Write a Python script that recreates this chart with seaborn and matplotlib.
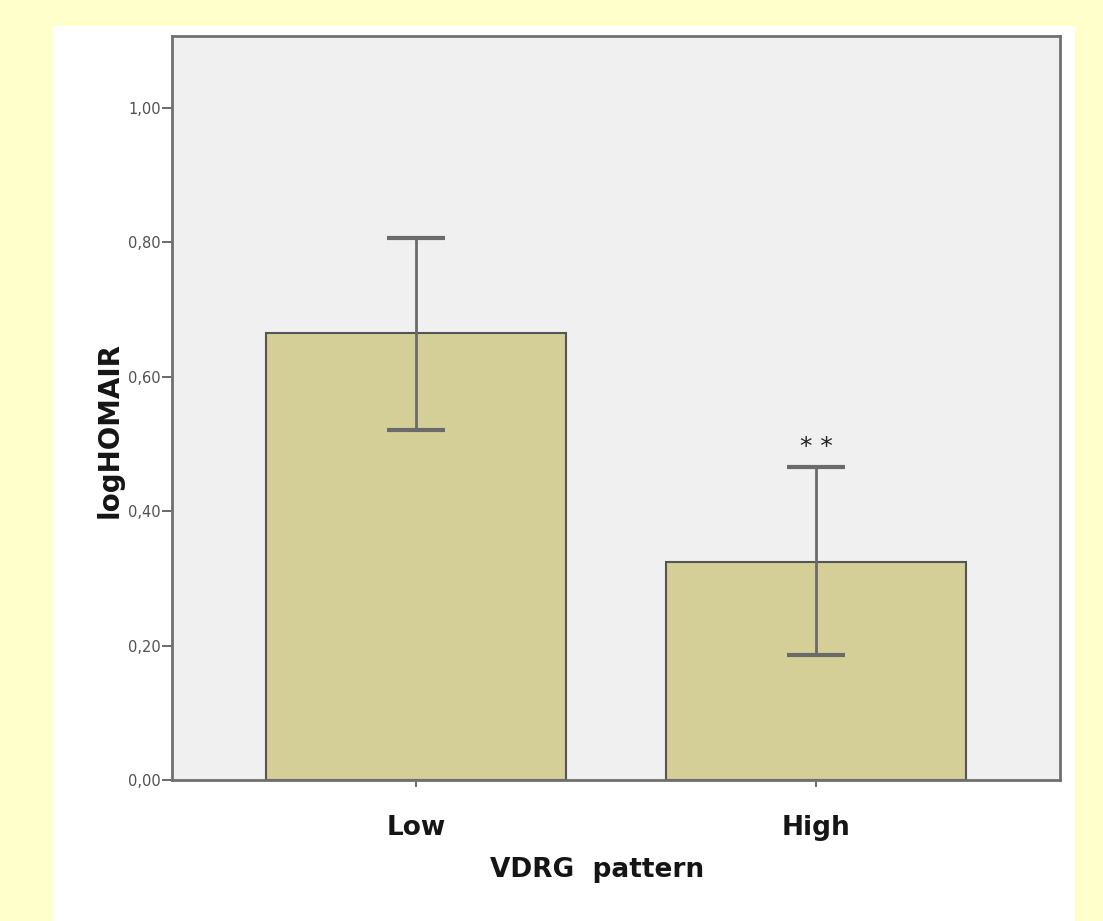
import matplotlib

matplotlib.use("Agg")

import matplotlib.pyplot as plt
from matplotlib.patches import Rectangle
from matplotlib.ticker import FixedLocator
import seaborn as sns

groups = ["Low", "High"]
means = [0.665, 0.325]
ci_low = [0.521, 0.186]
ci_high = [0.807, 0.465]
y_ticks = [0.0, 0.2, 0.4, 0.6, 0.8, 1.0]
y_tick_labels = ["0,00", "0,20", "0,40", "0,60", "0,80", "1,00"]

sns.set_theme(style="white")
plt.rcParams["font.family"] = ["DejaVu Sans"]

fig = plt.figure(figsize=(11.03, 9.21), dpi=100)
fig.patch.set_facecolor("#ffffcc")
fig.patches.append(
    Rectangle((53 / 1103, 0), (1075 - 53) / 1103, 1 - 26 / 921,
              transform=fig.transFigure, facecolor="white", edgecolor="none", zorder=-10)
)

ax = fig.add_axes([172 / 1103, 141 / 921, 888 / 1103, 744 / 921])
ax.set_facecolor("#f0f0f0")

sns.barplot(x=groups, y=means, color="#d4cf96", width=0.75, errorbar=None,
            edgecolor="#555555", linewidth=1.5, saturation=1, ax=ax)

yerr = [[m - lo for m, lo in zip(means, ci_low)], [hi - m for m, hi in zip(means, ci_high)]]
ax.errorbar(range(len(groups)), means, yerr=yerr, fmt="none", ecolor="#6a6a6a",
            elinewidth=2, capsize=21, capthick=3, zorder=5)

ax.text(1, ci_high[1] + 0.012, "* *", ha="center", va="bottom", fontsize=18, color="#222222")

ax.set_xlim(-0.61, 1.61)
ax.set_ylim(0, 1.107)
ax.yaxis.set_major_locator(FixedLocator(y_ticks))
ax.set_yticklabels(y_tick_labels, fontsize=10.5, color="#505050")
ax.tick_params(axis="y", left=True, length=7, width=1.2, color="#505050", pad=1)
ax.tick_params(axis="x", bottom=True, length=5, width=1.2, color="#505050", pad=20)
for lbl in ax.get_xticklabels():
    lbl.set_fontsize(19)
    lbl.set_fontweight("bold")
    lbl.set_color("#151515")

for spine in ax.spines.values():
    spine.set_color("#707070")
    spine.set_linewidth(2)

ax.set_xlabel("VDRG  pattern", fontsize=19, fontweight="bold", color="#151515")
ax.xaxis.set_label_coords(0.479, -0.121)
ax.set_ylabel("logHOMAIR", fontsize=20, fontweight="bold", color="#151515")
ax.yaxis.set_label_coords(-0.07, 0.47)
ax.xaxis.label.set_va("center")
ax.yaxis.label.set_va("center")

fig.savefig("out.png", dpi=100, facecolor=fig.get_facecolor())
